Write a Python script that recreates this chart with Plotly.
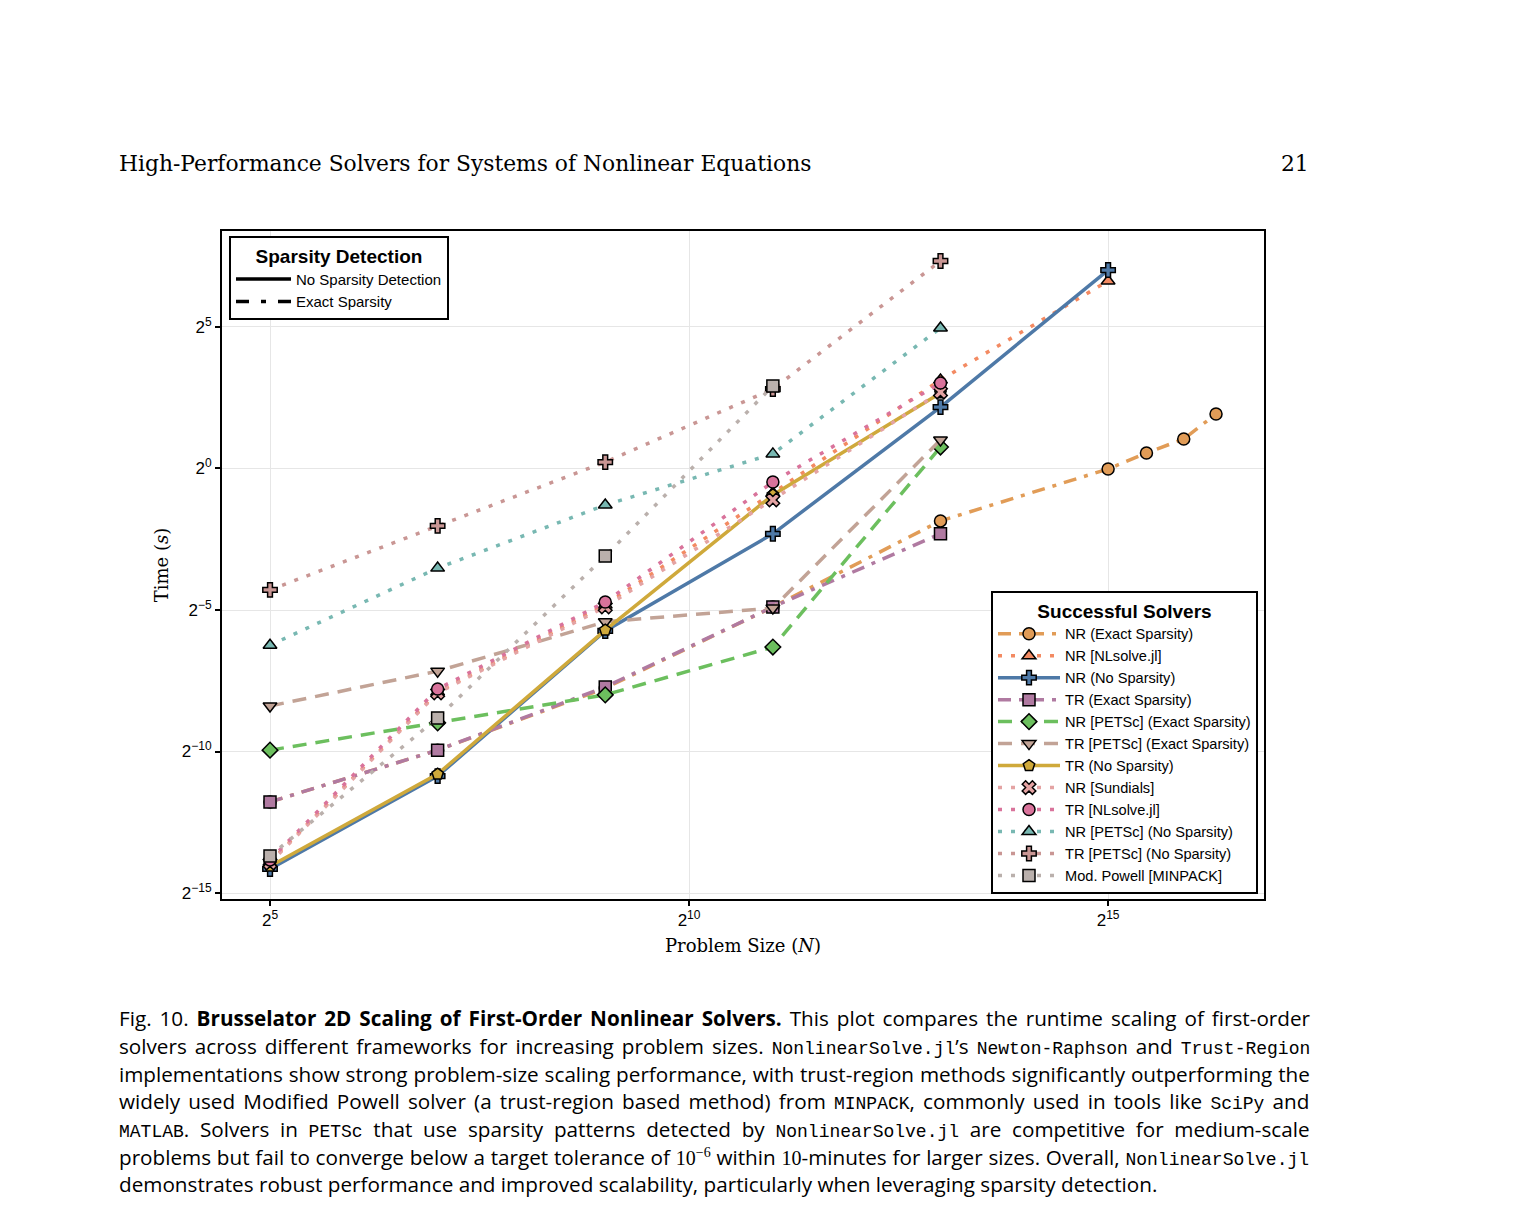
import plotly.graph_objects as go

# problem sizes N
sizes = [32, 128, 512, 2048, 8192, 32768]
sizes_long = [32, 128, 512, 2048, 8192, 32768, 45000, 61250, 80000]

# runtimes in seconds
nr_exact = [2.84e-4, 1.01e-3, 4.61e-3, 0.0337, 0.277, 0.988, 1.46, 2.06, 3.80]
nr_nlsolve = [6.54e-5, 4.19e-3, 0.0354, 0.549, 8.75, 98.7]
nr_nosparse = [5.50e-5, 5.34e-4, 0.0187, 0.202, 4.50, 129.0]
tr_exact = [2.84e-4, 1.01e-3, 4.74e-3, 0.0337, 0.202]
nr_petsc_exact = [1.01e-3, 1.97e-3, 3.91e-3, 0.0126, 1.69]
tr_petsc_exact = [2.98e-3, 6.99e-3, 0.0234, 0.0328, 2.01]
tr_nosparse = [5.88e-5, 5.61e-4, 0.0191, 0.523, 6.36]
nr_sundials = [6.37e-5, 4.10e-3, 0.0337, 0.463, 6.50]
tr_nlsolve = [6.87e-5, 4.51e-3, 0.0380, 0.718, 8.11]
nr_petsc_nosparse = [0.0132, 0.0872, 0.409, 1.43, 31.2]
tr_petsc_nosparse = [0.0511, 0.245, 1.17, 7.0, 161.0]
mod_powell = [7.57e-5, 2.22e-3, 0.117, 7.55]


def sup(s):
    return "2<sup><span style='font-size:12px'>%s</span></sup>" % s


x_tick_vals = [2**5, 2**10, 2**15]
x_tick_text = [sup("5"), sup("10"), sup("15")]
y_tick_vals = [2**5, 2**0, 2**-5, 2**-10, 2**-15]
y_tick_text = [sup("5"), sup("0"), sup("\u22125"), sup("\u221210"), sup("\u221215")]

DOT = "4px,9px"
DASH = "14px,9px"
DASHDOT = "13px,8px,4px,8px"

solvers = [
    # name, x, y, color, dash, symbol
    ("NR (Exact Sparsity)", sizes_long, nr_exact, "#E19C57", DASHDOT, "circle"),
    ("NR [NLsolve.jl]", sizes, nr_nlsolve, "#F38A62", DOT, "triangle-up"),
    ("NR (No Sparsity)", sizes, nr_nosparse, "#4E79A7", "solid", "cross"),
    ("TR (Exact Sparsity)", sizes[:5], tr_exact, "#B07AA1", DASHDOT, "square"),
    ("NR [PETSc] (Exact Sparsity)", sizes[:5], nr_petsc_exact, "#6CBF5E", DASH, "diamond"),
    ("TR [PETSc] (Exact Sparsity)", sizes[:5], tr_petsc_exact, "#C2A396", DASH, "triangle-down"),
    ("TR (No Sparsity)", sizes[:5], tr_nosparse, "#CFA93B", "solid", "pentagon"),
    ("NR [Sundials]", sizes[:5], nr_sundials, "#E4A3A3", DOT, "x"),
    ("TR [NLsolve.jl]", sizes[:5], tr_nlsolve, "#D9739B", DOT, "circle"),
    ("NR [PETSc] (No Sparsity)", sizes[:5], nr_petsc_nosparse, "#78B8B2", DOT, "triangle-up"),
    ("TR [PETSc] (No Sparsity)", sizes[:5], tr_petsc_nosparse, "#C99694", DOT, "cross"),
    ("Mod. Powell [MINPACK]", sizes[:4], mod_powell, "#BAB0AC", DOT, "square"),
]

SANS = "Liberation Sans"
SERIF = "DejaVu Serif"
CAP = "Open Sans"
MONO = "Liberation Mono"

fig = go.Figure()

for name, xs, ys, color, dash, symbol in solvers:
    fig.add_trace(go.Scatter(
        x=xs, y=ys, name=name, mode="lines+markers",
        line=dict(color=color, width=3.5, dash=dash),
        marker=dict(symbol=symbol, size=12, color=color,
                    line=dict(color="black", width=1.5)),
        legend="legend",
    ))

# sparsity detection key
fig.add_trace(go.Scatter(x=[None], y=[None], name="No Sparsity Detection", mode="lines",
                         line=dict(color="black", width=3.5), legend="legend2"))
fig.add_trace(go.Scatter(x=[None], y=[None], name="Exact Sparsity", mode="lines",
                         line=dict(color="black", width=3.5, dash="13px,12px,5px,12px"),
                         legend="legend2"))

# page is offset by the 8px body margin
OFF = 8
W, H = 1530 - 2 * OFF, 1232 - 2 * OFF
# plot area in page pixels
L, R, T, B = 222, 1264, 231, 899


def px(x):
    return (x - L) / (R - L)


def py(y):
    return (B - y) / (B - T)


def tt(s):
    return "<span style=\"font-family:'%s';font-size:18px\">%s</span>" % (MONO, s)


def rm(s):
    return "<span style=\"font-family:'Liberation Serif';font-size:20px\">%s</span>" % s


caption = [
    "Fig. 10. <b>Brusselator 2D Scaling of First-Order Nonlinear Solvers.</b> This plot compares the runtime scaling of first-order",
    "solvers across different frameworks for increasing problem sizes. " + tt("NonlinearSolve.jl") + "\u2019s "
    + tt("Newton-Raphson") + " and " + tt("Trust-Region"),
    "implementations show strong problem-size scaling performance, with trust-region methods significantly outperforming the",
    "widely used Modified Powell solver (a trust-region based method) from " + tt("MINPACK")
    + ", commonly used in tools like " + tt("SciPy") + " and",
    tt("MATLAB") + ". Solvers in " + tt("PETSc") + " that use sparsity patterns detected by "
    + tt("NonlinearSolve.jl") + " are competitive for medium-scale",
    "problems but fail to converge below a target tolerance of " + rm("10<sup>\u22126</sup>") + " within "
    + rm("10") + "-minutes for larger sizes. Overall, " + tt("NonlinearSolve.jl"),
    "demonstrates robust performance and improved scalability, particularly when leveraging sparsity detection.",
]
caption_y = [1018, 1046, 1074, 1101, 1129, 1157, 1184]
# extra space between words to justify each line
caption_spacing = [2.6, 2.6, 0.5, 2.8, 5.35, 0.4, 0.0]

annotations = []
for line, yy, ws in zip(caption, caption_y, caption_spacing):
    annotations.append(dict(
        x=px(117), y=py(yy), xref="paper", yref="paper", xanchor="left", yanchor="middle",
        text="<span style=\"word-spacing:%spx\">%s</span>" % (ws, line), showarrow=False,
        font=dict(family=CAP, size=20.7, color="black"),
    ))
annotations.append(dict(
    x=px(117), y=py(164), xref="paper", yref="paper", xanchor="left", yanchor="middle",
    text="High-Performance Solvers for Systems of Nonlinear Equations", showarrow=False,
    font=dict(family=SERIF, size=21.8, color="black"),
))
annotations.append(dict(
    x=px(1311), y=py(164), xref="paper", yref="paper", xanchor="right", yanchor="middle",
    text="21", showarrow=False, font=dict(family=SERIF, size=21.8, color="black"),
))

fig.update_layout(
    width=W, height=H, autosize=False,
    margin=dict(l=L - OFF, r=W - (R - OFF), t=T - OFF, b=H - (B - OFF), pad=0),
    paper_bgcolor="white", plot_bgcolor="white",
    font=dict(family=SANS, size=15, color="black"),
    xaxis=dict(
        type="log", range=[1.3327, 5.0754],
        tickvals=x_tick_vals, ticktext=x_tick_text,
        showgrid=True, gridcolor="#e6e6e6", gridwidth=1, zeroline=False,
        showline=True, linecolor="black", linewidth=2, mirror=True,
        ticks="outside", ticklen=5, tickwidth=1.5, tickcolor="black",
        tickfont=dict(family=SANS, size=17),
        title=dict(text="Problem Size (<i>N</i>)", font=dict(family=SERIF, size=18), standoff=10),
    ),
    yaxis=dict(
        type="log", range=[-4.579, 2.526],
        tickvals=y_tick_vals, ticktext=y_tick_text,
        showgrid=True, gridcolor="#e6e6e6", gridwidth=1, zeroline=False,
        showline=True, linecolor="black", linewidth=2, mirror=True,
        ticks="outside", ticklen=5, tickwidth=1.5, tickcolor="black",
        tickfont=dict(family=SANS, size=17),
        title=dict(text="Time (<i>s</i>)", font=dict(family=SERIF, size=18), standoff=8),
    ),
    legend=dict(
        title=dict(text="<b>Successful Solvers</b>", side="top center",
                   font=dict(family=SANS, size=19)),
        x=px(1258), y=py(894), xanchor="right", yanchor="bottom",
        bgcolor="white", bordercolor="black", borderwidth=2,
        font=dict(family=SANS, size=14.6), itemwidth=62,
        tracegroupgap=0,
    ),
    legend2=dict(
        title=dict(text="<b>Sparsity Detection</b>", side="top center",
                   font=dict(family=SANS, size=19)),
        x=px(229), y=py(236), xanchor="left", yanchor="top",
        bgcolor="white", bordercolor="black", borderwidth=2,
        font=dict(family=SANS, size=15), itemwidth=55,
    ),
    annotations=annotations,
    showlegend=True,
)

fig.write_html("out.html")
